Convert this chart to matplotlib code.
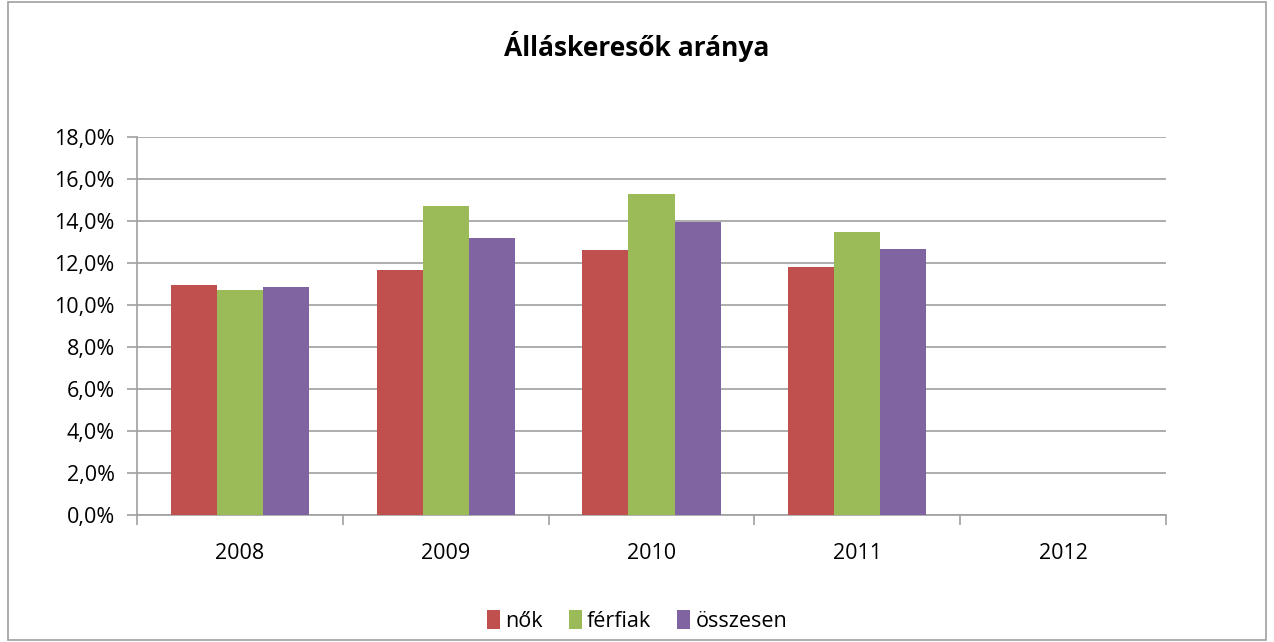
import matplotlib
matplotlib.use("Agg")
import matplotlib.pyplot as plt
import numpy as np
from matplotlib.patches import Rectangle, Patch
from matplotlib.ticker import FuncFormatter, FixedLocator

title = "Álláskeresők aránya"
years = ["2008", "2009", "2010", "2011", "2012"]
series_names = ["nők", "férfiak", "összesen"]
nok = [10.96, 11.66, 12.62, 11.81, np.nan]
ferfiak = [10.72, 14.71, 15.28, 13.47, np.nan]
osszesen = [10.86, 13.19, 13.95, 12.67, np.nan]
colors = ["#C0504D", "#9BBB59", "#8064A2"]

plt.rcParams['font.family'] = ['Open Sans', 'DejaVu Sans']

fig = plt.figure(figsize=(12.74, 6.42), dpi=100)
ax = fig.add_axes([137/1274, 1-515/642, (1166-137)/1274, (515-137)/642])

x = np.arange(len(years))
w = 0.224
for i, (vals, c) in enumerate(zip([nok, ferfiak, osszesen], colors)):
    ax.bar(x + (i-1)*w, vals, width=w, color=c, zorder=3, label=series_names[i])

ax.set_xlim(-0.5, len(years)-0.5)
ax.set_ylim(0, 18)
ax.set_yticks(np.arange(0, 18.1, 2))
ax.yaxis.set_major_formatter(FuncFormatter(lambda v, p: f"{v:.1f}%".replace('.', ',')))
ax.grid(axis='y', color='#A0A0A0', linewidth=1.2, zorder=0)
ax.set_xticks(x)
ax.set_xticklabels(years)
ax.xaxis.set_minor_locator(FixedLocator(np.arange(-0.5, len(years), 1)))
ax.tick_params(axis='x', which='major', length=0, pad=20, labelsize=15.5)
ax.tick_params(axis='x', which='minor', length=7, color='#A0A0A0', width=1.2)
ax.tick_params(axis='y', length=7, color='#A0A0A0', width=1.2, labelsize=15.5, pad=9)
for s in ['top', 'right']:
    ax.spines[s].set_visible(False)
ax.spines['left'].set_color('#A0A0A0')
ax.spines['bottom'].set_color('#A0A0A0')
ax.spines['left'].set_linewidth(1.2)
ax.spines['bottom'].set_linewidth(1.2)

fig.text(0.5, 1-47/642, title, ha='center', va='center', fontsize=19, fontweight='bold')

handles = [Patch(facecolor=c) for c in colors]
fig.legend(handles, series_names, loc='center', bbox_to_anchor=(0.5, 1-621/642), ncol=3,
           frameon=False, fontsize=15.5, handlelength=0.6, handleheight=1.0, handletextpad=0.25,
           columnspacing=1.2)

fig.patches.append(Rectangle((8/1274, 2/642), 1-16/1274, 1-4/642, transform=fig.transFigure,
                             fill=False, edgecolor='#A0A0A0', linewidth=1.2))

fig.savefig("out.png", dpi=100)
